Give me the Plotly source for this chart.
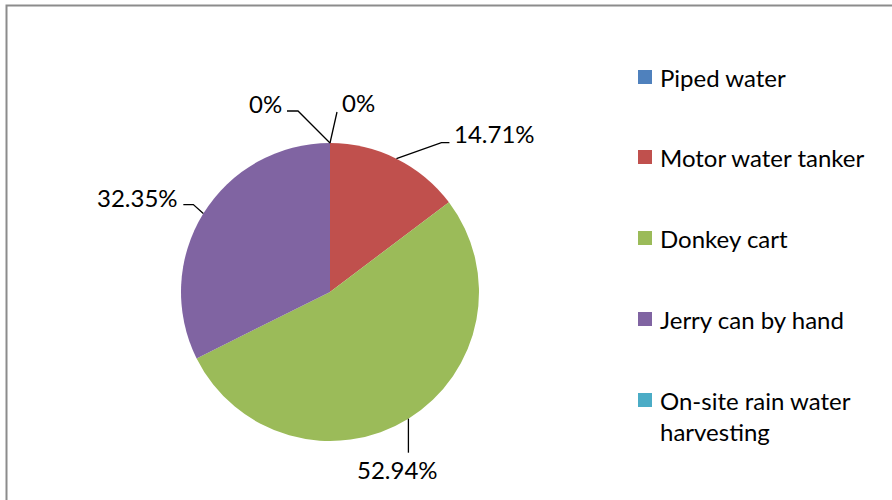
import math
import plotly.graph_objects as go

# Water transport modes and their share of households (%)
categories = ["Piped water", "Motor water tanker", "Donkey cart",
              "Jerry can by hand", "On-site rain water<br>harvesting"]
shares = [0.0, 14.71, 52.94, 32.35, 0.0]
colors = ["#4F81BD", "#C0504D", "#9BBB59", "#8064A2", "#4BACC6"]

W, H = 892, 500
FONT = "Lato, 'Open Sans', sans-serif"
FS = 24

# Pie geometry in pixels (centre and radius)
cx, cy, r = 330, 292, 149

fig = go.Figure(go.Pie(
    labels=categories,
    values=shares,
    marker=dict(colors=colors, line=dict(width=0)),
    sort=False,
    direction="clockwise",
    rotation=0,
    textinfo="none",
    hoverinfo="label+percent",
    showlegend=False,
    domain=dict(x=[(cx - r) / W, (cx + r) / W],
                y=[(H - cy - r) / H, (H - cy + r) / H]),
))


def px(x):
    return x / W


def py(y):
    return 1 - y / H


shapes = []
annotations = []

# Leader-line layout per slice (piped, tanker, donkey, jerry, rain):
# elbow point and line end as pixel offsets from the slice's rim point
label_layout = [
    dict(elbow=(-32, -32), end=(-43, -32), anchor="right"),
    dict(elbow=(45, -16), end=(53, -16), anchor="left"),
    dict(elbow=None, end=(0, 34), anchor="bottom"),
    dict(elbow=(-10, -9), end=(-20, -9), anchor="right"),
    dict(elbow=None, end=(7, -31), anchor="left"),
]

total = sum(shares)
cum = 0.0
for i, v in enumerate(shares):
    mid = (cum + v / 2) / total * 2 * math.pi
    cum += v
    ax = cx + r * math.sin(mid)
    ay = cy - r * math.cos(mid)
    lay = label_layout[i]
    pts = [(ax, ay)]
    if lay["elbow"] is not None:
        pts.append((ax + lay["elbow"][0], ay + lay["elbow"][1]))
    ex, ey = ax + lay["end"][0], ay + lay["end"][1]
    pts.append((ex, ey))
    path = "M " + " L ".join(f"{px(x)},{py(y)}" for x, y in pts)
    shapes.append(dict(type="path", xref="paper", yref="paper", path=path,
                       line=dict(color="black", width=1.3)))
    txt = f"{v:g}%" if v == 0 else f"{v:.2f}%"
    if lay["anchor"] == "right":
        annotations.append(dict(x=px(ex - 3), y=py(ey - 7), text=txt,
                                xanchor="right", yanchor="middle"))
    elif lay["anchor"] == "left":
        annotations.append(dict(x=px(ex + 3), y=py(ey - 9), text=txt,
                                xanchor="left", yanchor="middle"))
    else:
        annotations.append(dict(x=px(ex - 11), y=py(ey), text=txt,
                                xanchor="center", yanchor="top"))

for a in annotations:
    a.update(xref="paper", yref="paper", showarrow=False,
             font=dict(family=FONT, size=FS, color="black"))

# Legend drawn as coloured squares with labels
row_y = [77, 157, 238, 319, 400]
for i, (name, col) in enumerate(zip(categories, colors)):
    y = row_y[i]
    shapes.append(dict(type="rect", xref="paper", yref="paper",
                       x0=px(638), x1=px(652), y0=py(y - 7), y1=py(y + 7),
                       fillcolor=col, line=dict(width=0)))
    multiline = "<br>" in name
    annotations.append(dict(
        x=px(658), y=py(y - 16 if multiline else y), text=name,
        xref="paper", yref="paper", showarrow=False,
        xanchor="left", yanchor="top" if multiline else "middle",
        align="left",
        font=dict(family=FONT, size=FS, color="black")))

# Chart frame
shapes.append(dict(type="path", xref="paper", yref="paper",
                   path=f"M {px(6.5)},0 L {px(6.5)},{py(5.5)} L 1,{py(5.5)}",
                   line=dict(color="#8C8C8C", width=2)))

fig.update_layout(
    width=W, height=H,
    margin=dict(l=0, r=0, t=0, b=0),
    paper_bgcolor="white",
    plot_bgcolor="white",
    shapes=shapes,
    annotations=annotations,
)

fig.write_html("out.html")
